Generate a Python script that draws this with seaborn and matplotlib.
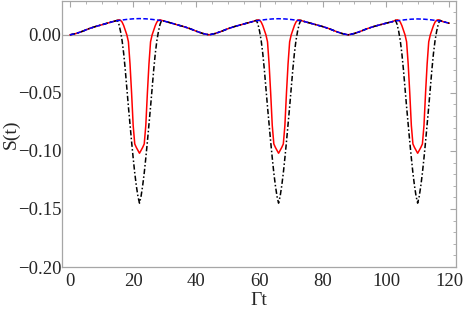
import numpy as np
import pandas as pd
import seaborn as sns
import matplotlib
matplotlib.use("Agg")
import matplotlib.pyplot as plt
from matplotlib.ticker import MultipleLocator, FuncFormatter

# Blue curve (read every 2 units of Gamma t)
t_blue = list(range(0, 122, 2))
s_blue = [0.0, 0.0012, 0.0031, 0.0053, 0.0071, 0.0086, 0.0102, 0.0117, 0.0126, 0.0133,
          0.0138, 0.0140, 0.0138, 0.0133, 0.0126, 0.0117, 0.0102, 0.0086, 0.0071, 0.0053,
          0.0031, 0.0012, 0.0, 0.0012, 0.0031, 0.0053, 0.0071, 0.0086, 0.0101, 0.0116,
          0.0125, 0.0132, 0.0137, 0.0139, 0.0137, 0.0132, 0.0125, 0.0116, 0.0101, 0.0086,
          0.0071, 0.0053, 0.0031, 0.0012, 0.0, 0.0012, 0.0031, 0.0053, 0.0071, 0.0086,
          0.0100, 0.0114, 0.0123, 0.0130, 0.0135, 0.0137, 0.0135, 0.0130, 0.0123, 0.0114,
          0.0100]

# red and black follow the blue curve except near the dips
dip_centres = [22, 66, 110]
dip_offsets = [-7, -6.5, -6, -5.5, -5, -4.5, -4, -3.5, -3, -2.5, -2, -1.5, -1, -0.5, 0,
               0.5, 1, 1.5, 2, 2.5, 3, 3.5, 4, 4.5, 5, 5.5, 6, 6.5, 7]
red_dip = [0.0125, 0.0130, 0.0125, 0.0110, 0.0080, 0.0040, 0.0000, -0.0060, -0.0250,
           -0.0500, -0.0780, -0.0940, -0.0970, -0.0995, -0.1020, -0.0995, -0.0970, -0.0940,
           -0.0780, -0.0500, -0.0250, -0.0060, 0.0000, 0.0040, 0.0080, 0.0110, 0.0125,
           0.0130, 0.0125]
black_dip = [0.0125, 0.0090, 0.0030, -0.0050, -0.0160, -0.0300, -0.0460, -0.0620, -0.0770,
             -0.0920, -0.1060, -0.1190, -0.1300, -0.1390, -0.1450, -0.1390, -0.1300, -0.1190,
             -0.1060, -0.0920, -0.0770, -0.0620, -0.0460, -0.0300, -0.0160, -0.0050, 0.0030,
             0.0090, 0.0125]


def build_series(dip_values):
    base = pd.DataFrame({"t": t_blue, "s": s_blue})
    near = np.zeros(len(base), dtype=bool)
    for c in dip_centres:
        near |= (base["t"] - c).abs() <= 7
    parts = [base[~near]]
    for c in dip_centres:
        parts.append(pd.DataFrame({"t": [c + r for r in dip_offsets], "s": dip_values}))
    return pd.concat(parts).sort_values("t").reset_index(drop=True)


df_blue = pd.DataFrame({"t": t_blue, "s": s_blue})
df_red = build_series(red_dip)
df_black = build_series(black_dip)

sns.set_style("white")
plt.rcParams["font.family"] = ["Liberation Serif", "DejaVu Serif"]

fig = plt.figure(figsize=(4.63, 3.16), dpi=100)
ax = fig.add_axes([0.134, 0.155, 0.850, 0.842])

ax.axhline(0, color="#a6a6a6", lw=0.9, zorder=1)
sns.lineplot(data=df_red, x="t", y="s", color="red", lw=1.1, ax=ax, sort=False)
sns.lineplot(data=df_black, x="t", y="s", color="black", lw=1.1, ax=ax, sort=False,
             linestyle=(0, (3.5, 1.5, 1, 1.5)))
sns.lineplot(data=df_blue, x="t", y="s", color="#0000ff", lw=1.1, ax=ax, sort=False,
             linestyle=(0, (3, 1.5)))

ax.set_xlim(-2.5, 122.0)
ax.set_ylim(-0.2, 0.0292)
ax.xaxis.set_major_locator(MultipleLocator(20))
ax.xaxis.set_minor_locator(MultipleLocator(5))
ax.yaxis.set_major_locator(MultipleLocator(0.05))
ax.yaxis.set_minor_locator(MultipleLocator(0.01))
ax.yaxis.set_major_formatter(FuncFormatter(lambda v, p: f"{v:.2f}".replace("-", "\u2212")))

for sp in ax.spines.values():
    sp.set_color("#a6a6a6")
    sp.set_linewidth(0.9)
ax.tick_params(which="both", direction="in", color="#a6a6a6", top=True, right=True,
               labelsize=13.5)
ax.tick_params(axis="x", pad=4)
ax.tick_params(axis="y", pad=0.5)
ax.tick_params(which="major", length=4, width=0.8)
ax.tick_params(which="minor", length=2, width=0.6)

ax.set_xlabel("\u0393t", fontsize=14, va="center")
ax.xaxis.set_label_coords(0.5, -0.125)
ax.set_ylabel("S(t)", fontsize=14, va="center")
ax.yaxis.set_label_coords(-0.13, 0.5)

fig.savefig("out.png", dpi=100)
